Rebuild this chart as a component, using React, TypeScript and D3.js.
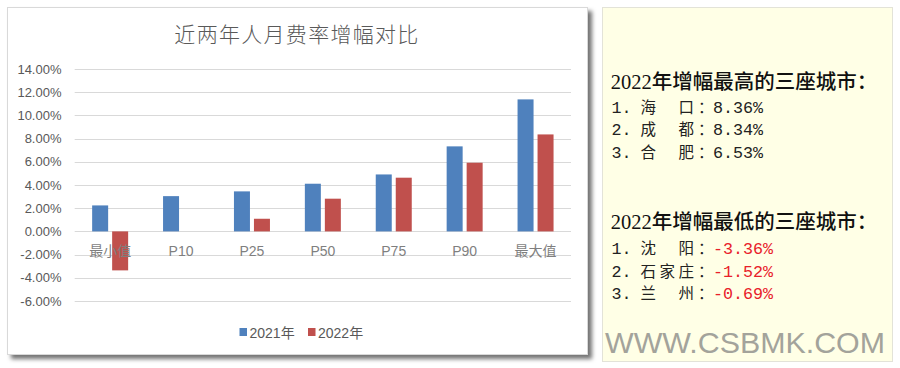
import React from 'react'
import * as d3 from 'd3'

// chart data
const categories = ['最小值', 'P10', 'P25', 'P50', 'P75', 'P90', '最大值']
const series = ['2021年', '2022年']
const values2021 = [2.24, 3.04, 3.45, 4.11, 4.91, 7.33, 11.38]
const values2022 = [-3.36, 0, 1.09, 2.82, 4.63, 5.92, 8.36]
const yTicks = [-6, -4, -2, 0, 2, 4, 6, 8, 10, 12, 14]
const colors = ['#4F81BD', '#C0504D']

// side panel text
const topCities = [
  { rank: '1.', name: ['海', '口'], value: '8.36%' },
  { rank: '2.', name: ['成', '都'], value: '8.34%' },
  { rank: '3.', name: ['合', '肥'], value: '6.53%' },
]
const lowCities = [
  { rank: '1.', name: ['沈', '阳'], value: '-3.36%' },
  { rank: '2.', name: ['石', '家', '庄'], value: '-1.52%' },
  { rank: '3.', name: ['兰', '州'], value: '-0.69%' },
]

const CJK = '"Noto Sans CJK SC", sans-serif'
const MONO = '"Liberation Mono", "Noto Sans CJK SC", monospace'

function CityRows({ rows, y0, valueColor }: { rows: any[]; y0: number; valueColor: string }) {
  const step = 19
  return (
    <g>
      {rows.map((r, i) => {
        const y = y0 + i * 22.5
        const namePos = r.name.length === 3 ? [0, 1, 2] : [0, 2]
        return (
          <text key={i} y={y} fontSize={15.5} fill="#222">
            <tspan x={611.5} fontFamily={MONO} fontSize={16.7}>{r.rank}</tspan>
            {r.name.map((c: string, j: number) => (
              <tspan key={j} x={640.5 + namePos[j] * step} fontFamily={CJK}>{c}</tspan>
            ))}
            <tspan x={698} fontFamily={CJK}>：</tspan>
            <tspan x={713} fontFamily={MONO} fontSize={16.7} fill={valueColor}>{r.value}</tspan>
          </text>
        )
      })}
    </g>
  )
}

export default function App() {
  const width = 900
  const height = 368

  const x = d3.scaleBand<string>().domain(categories).range([74.7, 571]).paddingInner(0).paddingOuter(0)
  const y = d3.scaleLinear().domain([-6, 14]).range([301, 69])
  const bw = x.bandwidth()
  const xs = d3.scaleBand<string>().domain(series).range([bw / 2 - 18, bw / 2 + 18]).paddingInner(0.2)

  const data = [values2021, values2022]

  return (
    <div style={{ position: 'absolute', left: 0, top: 0 }}>
      <svg width={width} height={height} style={{ display: 'block', background: '#fff' }}>
        <defs>
          <filter id="shadow" x="-5%" y="-5%" width="115%" height="115%">
            <feDropShadow dx="4" dy="4" stdDeviation="2" floodColor="#000" floodOpacity="0.55" />
          </filter>
        </defs>

        {/* chart box */}
        <rect x={7.5} y={7.5} width={580} height={347} fill="#fff" stroke="#d9d9d9" filter="url(#shadow)" />

        <text x={297} y={42} textAnchor="middle" fontFamily={CJK} fontWeight={300} fontSize={21}
          letterSpacing={1.3} fill="#595959">近两年人月费率增幅对比</text>

        {/* grid + y axis */}
        {yTicks.map(t => (
          <g key={t}>
            <line x1={74.7} x2={571} y1={Math.round(y(t)) + 0.5} y2={Math.round(y(t)) + 0.5} stroke="#d9d9d9" />
            <text x={61.5} y={y(t) + 4.5} textAnchor="end" fontFamily='"Liberation Sans", sans-serif'
              fontSize={13} fill="#595959">{t.toFixed(2) + '%'}</text>
          </g>
        ))}

        {/* bars */}
        {data.map((vals, si) => (
          <g key={si} fill={colors[si]}>
            {vals.map((v, ci) => v === 0 ? null : (
              <rect key={ci}
                x={(x(categories[ci]) as number) + (xs(series[si]) as number)}
                y={y(Math.max(0, v))}
                width={xs.bandwidth()}
                height={Math.abs(y(v) - y(0))} />
            ))}
          </g>
        ))}

        {/* category labels */}
        {categories.map(c => (
          <text key={c} x={(x(c) as number) + bw / 2} y={256} textAnchor="middle"
            fontFamily={/P/.test(c) ? '"Liberation Sans", sans-serif' : CJK}
            fontSize={14} fill="#7f7f7f">{c}</text>
        ))}

        {/* legend */}
        {series.map((s, i) => {
          const lx = [239.5, 308][i]
          return (
            <g key={s}>
              <rect x={lx} y={328} width={7.5} height={8} fill={colors[i]} />
              <text x={lx + 10} y={337.5} fontFamily='"Liberation Sans", "Noto Sans CJK SC", sans-serif'
                fontSize={14} fill="#595959">{s}</text>
            </g>
          )
        })}

        {/* side panel */}
        <rect x={602.5} y={7.5} width={290} height={354} fill="#FFFFE6" stroke="#e3e3d8" />
        <text x={610.7} y={89} fontFamily='"Liberation Serif", "Noto Sans CJK SC", serif' fontWeight={500}
          fontSize={20.5} fill="#111">2022年增幅最高的三座城市：</text>
        <CityRows rows={topCities} y0={112.5} valueColor="#222" />
        <text x={610.7} y={229} fontFamily='"Liberation Serif", "Noto Sans CJK SC", serif' fontWeight={500}
          fontSize={20.5} fill="#111">2022年增幅最低的三座城市：</text>
        <CityRows rows={lowCities} y0={254} valueColor="#e8202a" />

        <text x={605} y={352.5} fontFamily='"Liberation Sans", Arial, sans-serif' fontSize={30}
          textLength={280} lengthAdjust="spacingAndGlyphs" fill="#a3a39b">WWW.CSBMK.COM</text>
      </svg>
    </div>
  )
}
